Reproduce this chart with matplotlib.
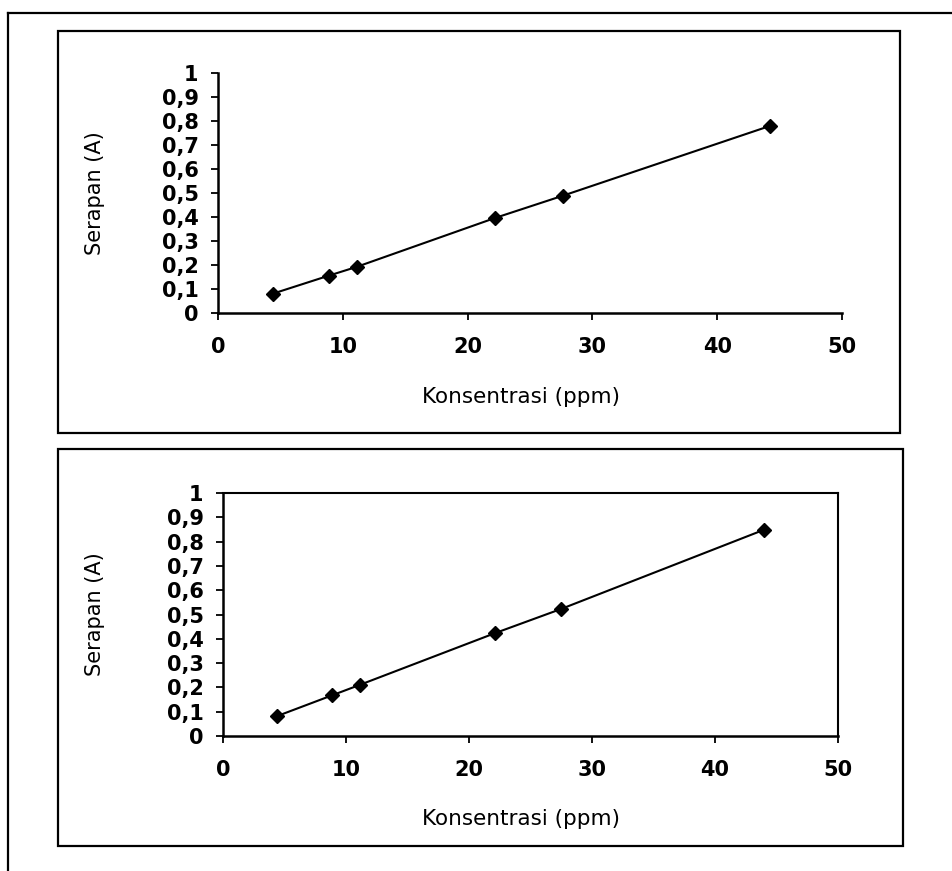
import matplotlib
matplotlib.use("Agg")
import matplotlib.pyplot as plt
from matplotlib.patches import Rectangle
from matplotlib.lines import Line2D
from matplotlib.ticker import FuncFormatter

# kurva kalibrasi atas
konsentrasi_1 = [4.42, 8.9, 11.1, 22.2, 27.65, 44.2]
serapan_1 = [0.081, 0.156, 0.192, 0.396, 0.489, 0.779]

# kurva kalibrasi bawah
konsentrasi_2 = [4.35, 8.9, 11.15, 22.1, 27.5, 43.95]
serapan_2 = [0.081, 0.168, 0.211, 0.423, 0.523, 0.848]

x_ticks = [0, 10, 20, 30, 40, 50]
y_ticks = [0, 0.1, 0.2, 0.3, 0.4, 0.5, 0.6, 0.7, 0.8, 0.9, 1]

plt.rcParams['font.family'] = ['DejaVu Sans']

W, H = 953, 871
fig = plt.figure(figsize=(W / 100, H / 100), dpi=100)


def px_rect(x0, y0, x1, y1):
    # piksel gambar -> koordinat figure
    return [x0 / W, 1 - y1 / H, (x1 - x0) / W, (y1 - y0) / H]


def koma(v, pos):
    if v == 0 or v == 1:
        return '%d' % v
    return ('%.1f' % v).replace('.', ',')


# bingkai luar
fig.add_artist(Line2D([8 / W, 8 / W], [0, 1 - 13 / H], color='black', lw=1.6))
fig.add_artist(Line2D([8 / W, 1], [1 - 13 / H, 1 - 13 / H], color='black', lw=1.6))

# kotak grafik
for box in [px_rect(58, 31, 900, 433), px_rect(58, 449, 903, 846)]:
    fig.add_artist(Rectangle((box[0], box[1]), box[2], box[3], transform=fig.transFigure,
                             fill=False, edgecolor='black', lw=1.6))


def gambar(ax, x, y, full_frame):
    ax.plot(x, y, color='black', lw=1.5, marker='D', markersize=7.5)
    ax.set_xlim(0, 50)
    ax.set_ylim(0, 1)
    ax.set_xticks(x_ticks)
    ax.set_yticks(y_ticks)
    ax.yaxis.set_major_formatter(FuncFormatter(koma))
    ax.tick_params(direction='out', length=5, width=1.3, labelsize=15)
    ax.xaxis.set_tick_params(pad=12)
    ax.yaxis.set_tick_params(pad=9)
    for t in ax.get_xticklabels() + ax.get_yticklabels():
        t.set_fontweight('bold')
    for s in ['left', 'bottom']:
        ax.spines[s].set_linewidth(1.8)
    if full_frame:
        ax.spines['top'].set_linewidth(1.5)
        ax.spines['right'].set_linewidth(1.5)
    else:
        ax.spines['top'].set_visible(False)
        ax.spines['right'].set_visible(False)


ax1 = fig.add_axes(px_rect(218, 73, 842, 313))
gambar(ax1, konsentrasi_1, serapan_1, False)

ax2 = fig.add_axes(px_rect(223, 493, 838, 736))
gambar(ax2, konsentrasi_2, serapan_2, True)

# label sumbu
for yc, yl in [(193, 397), (614, 819)]:
    fig.text(95 / W, 1 - yc / H, 'Serapan (A)', rotation=90, fontsize=15,
             ha='center', va='center')
    fig.text(521 / W, 1 - yl / H, 'Konsentrasi (ppm)', fontsize=15.5,
             ha='center', va='center')

fig.savefig('out.png', dpi=100)
